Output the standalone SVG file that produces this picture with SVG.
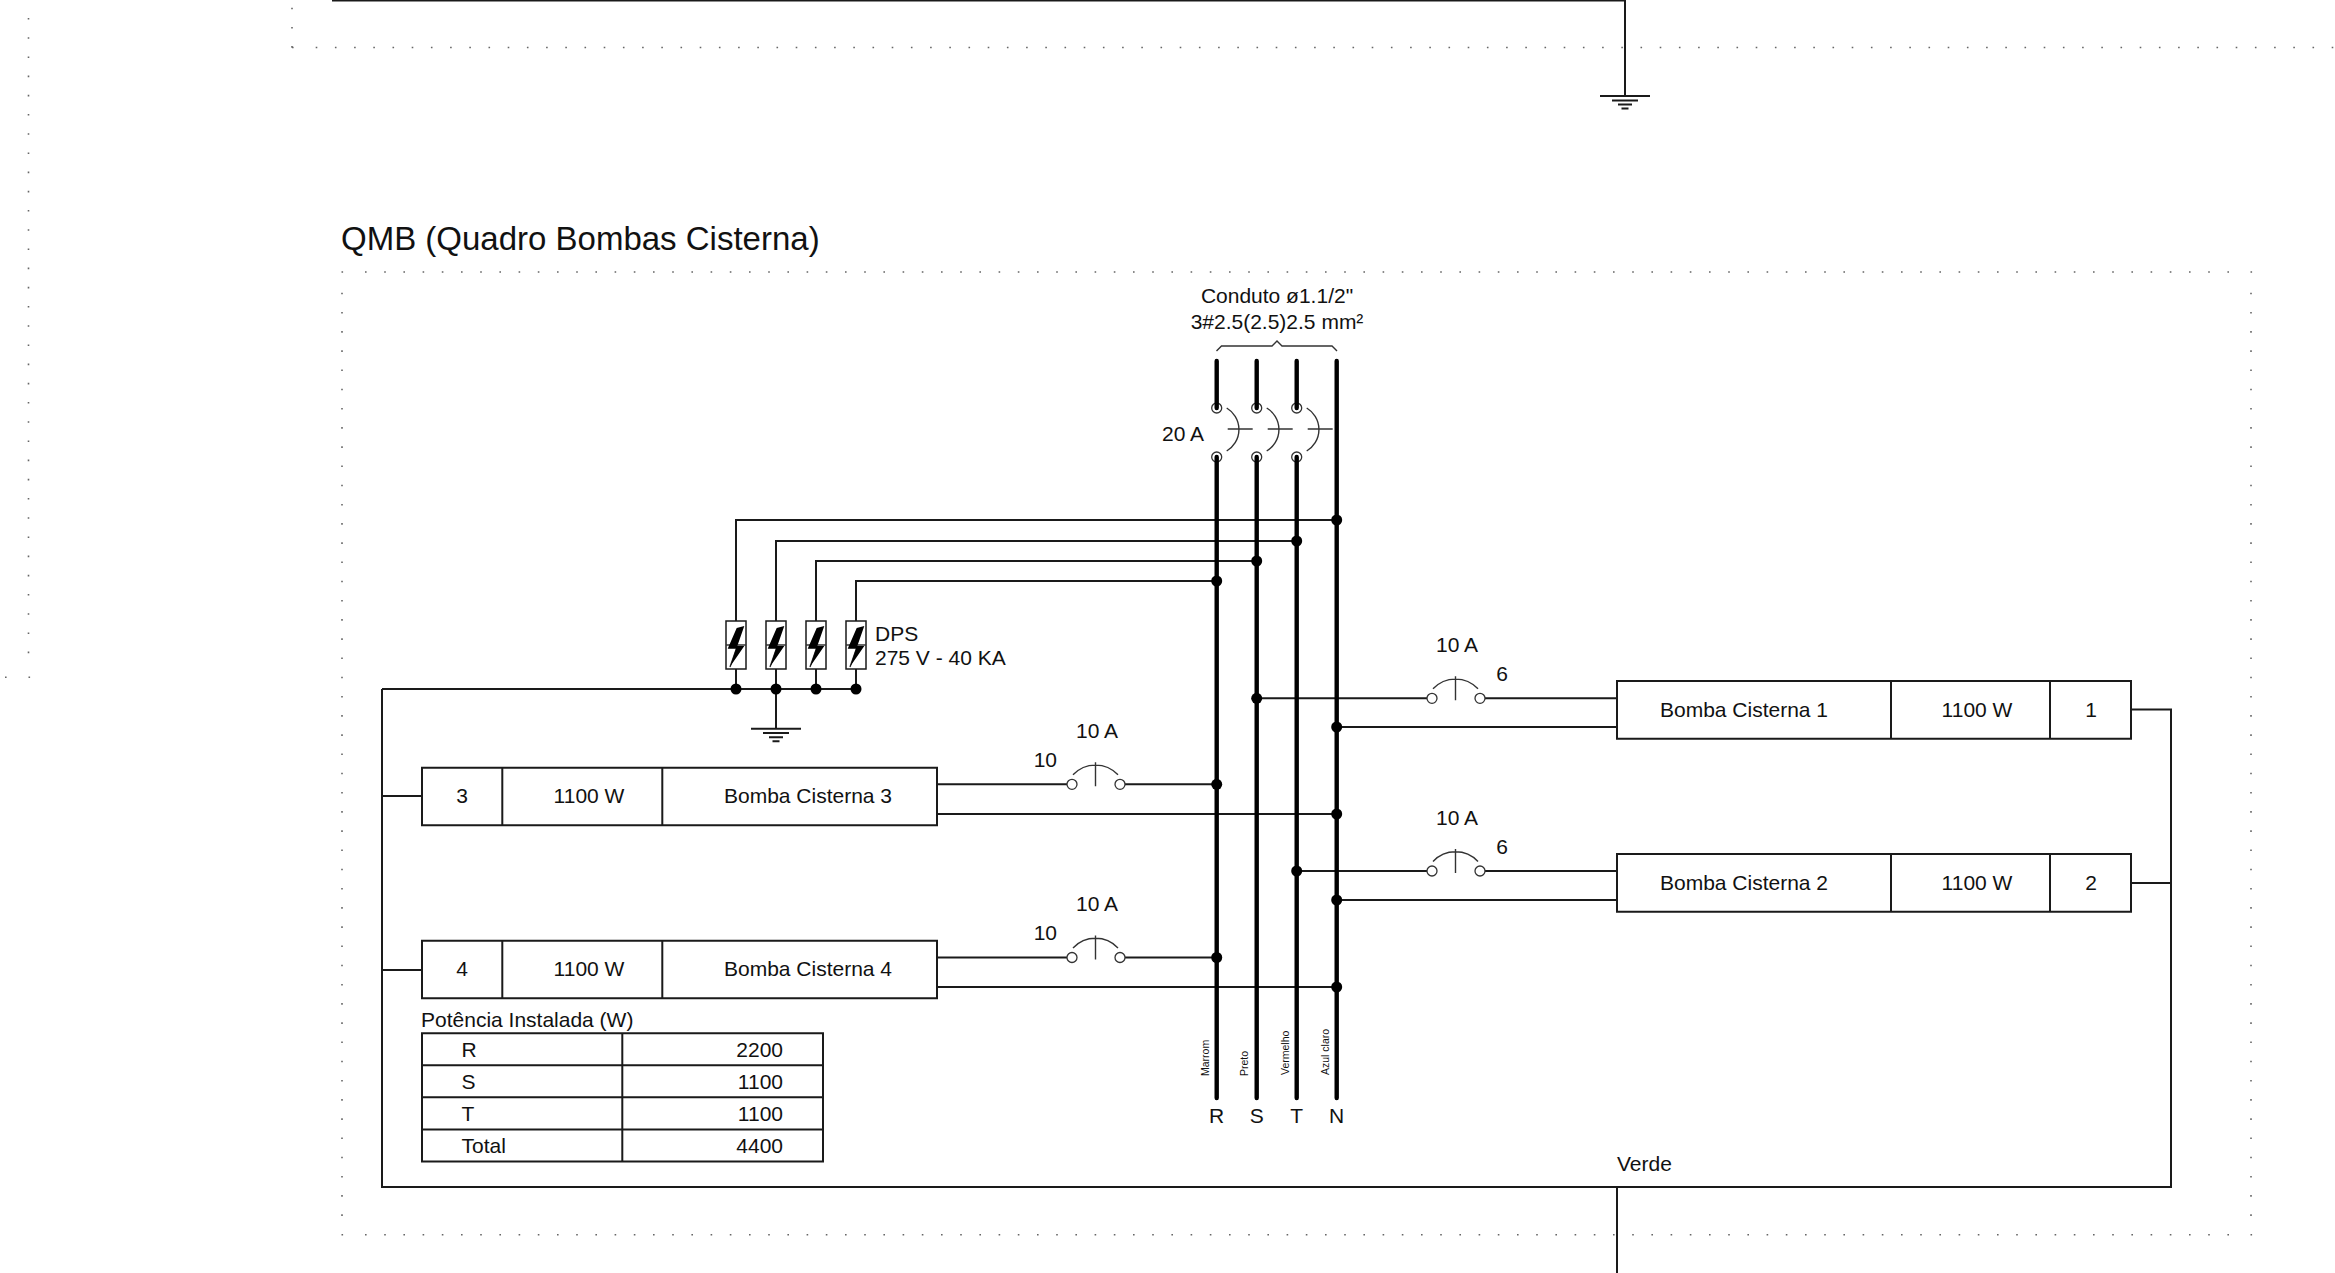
<svg xmlns="http://www.w3.org/2000/svg" width="2335" height="1273" viewBox="0 0 2335 1273">
<style>
text{font-family:"Liberation Sans",Arial,sans-serif;font-size:21px;fill:#111}
.m{text-anchor:middle}.e{text-anchor:end}
.w{fill:none;stroke:#1a1a1a;stroke-width:2}
.t{fill:none;stroke:#333;stroke-width:1.4}
.b{fill:none;stroke:#000;stroke-width:4.4;stroke-linecap:round}
.box{fill:#fff;stroke:#1a1a1a;stroke-width:2}
.d{fill:#000}
.o{fill:#fff;stroke:#333;stroke-width:1.3}
.dot{fill:none;stroke:#666;stroke-width:1.6;stroke-dasharray:1.6 17.6}
.c{font-size:10.5px}
</style>
<defs>
<g id="gnd"><path class="w" d="M-25 0H25"/><path class="w" d="M-13 4.4H13M-7 8.6H7M-3.5 12.6H3.5"/></g>
<g id="cb3"><path class="t" d="M10 -25A25 25 0 0 1 10 18M11 -4H36"/></g>
<g id="spd"><rect class="box" style="stroke-width:1.5" x="-10" y="0" width="20" height="48"/><path class="t" d="M-10 24H10M-6 46L1 26"/><path class="d" d="M8.3 5L0.7 7L-8.3 27.7H0L-6 45.7L8.3 25H1.3Z"/></g>
<g id="cb1"><path class="t" d="M1 -9.5A31 31 0 0 1 46 -9.5M23.5 -22V2"/><circle class="o" cx="0" cy="0" r="5"/><circle class="o" cx="48" cy="0" r="5"/></g>
</defs>
<g id="grid">
<path class="dot" d="M315.7 47.5H2335M292 7.7V50M28.5 18V655M28.5 677.3h1.6M5 677.3h1.6"/>
<path class="dot" d="M292 47.5h1.6M365 272H2229M365 1234.7H2229M342 292.7V1216M2251 292.7V1216M341.5 272h1.6M2250.5 272h1.6M341.5 1234.7h1.6M2250.5 1234.7h1.6"/>
</g>
<text id="title" x="341" y="250" style="font-size:33px">QMB (Quadro Bombas Cisterna)</text>
<g id="connectors">
<path class="w" d="M332 0.5H1625V96"/>
<path class="w" d="M382 689H856M382 689V1187H2171V709.5H2131M382 796H422M382 970H422M2171 883H2131M1617 1187V1273"/>
<path class="w" d="M736 621V520H1336.7M776 621V541H1296.7M816 621V561H1256.7M856 621V581H1216.7M736 669V689M776 669V728.7M816 669V689M856 669V689"/>
<path class="w" d="M937 784.3H1067M1125 784.3H1216.7M937 814H1336.7M937 957.5H1067M1125 957.5H1216.7M937 987H1336.7"/>
<path class="w" d="M1256.7 698.3H1427M1485 698.3H1617M1336.7 727H1617M1296.7 871H1427M1485 871H1617M1336.7 900H1617"/>
<path class="t" d="M1216.5 351L1221.5 346H1272L1277 341L1282 346H1332L1337 351"/>
</g>
<g id="breaker-main">
<use href="#cb3" x="1216.7" y="433"/><use href="#cb3" x="1256.7" y="433"/><use href="#cb3" x="1296.7" y="433"/>
<circle class="o" cx="1216.7" cy="408" r="5"/><circle class="o" cx="1256.7" cy="408" r="5"/><circle class="o" cx="1296.7" cy="408" r="5"/>
<circle class="o" cx="1216.7" cy="457" r="5"/><circle class="o" cx="1256.7" cy="457" r="5"/><circle class="o" cx="1296.7" cy="457" r="5"/>
<text class="e" x="1204" y="441">20 A</text>
</g>
<g id="buses">
<path class="b" d="M1216.7 361V408M1256.7 361V408M1296.7 361V408M1216.7 457V1098M1256.7 457V1098M1296.7 457V1098M1336.7 361V1098"/>
<text class="m" x="1216.7" y="1122.7">R</text><text class="m" x="1256.7" y="1122.7">S</text><text class="m" x="1296.7" y="1122.7">T</text><text class="m" x="1336.7" y="1122.7">N</text>
<text class="c" transform="translate(1209 1076) rotate(-90)">Marrom</text>
<text class="c" transform="translate(1248 1076) rotate(-90)">Preto</text>
<text class="c" transform="translate(1289 1075) rotate(-90)">Vermelho</text>
<text class="c" transform="translate(1329 1075) rotate(-90)">Azul claro</text>
</g>
<g id="junctions">
<circle class="d" cx="1336.7" cy="520" r="5.5"/><circle class="d" cx="1296.7" cy="541" r="5.5"/><circle class="d" cx="1256.7" cy="561" r="5.5"/><circle class="d" cx="1216.7" cy="581" r="5.5"/>
<circle class="d" cx="736" cy="689" r="5.5"/><circle class="d" cx="776" cy="689" r="5.5"/><circle class="d" cx="816" cy="689" r="5.5"/><circle class="d" cx="856" cy="689" r="5.5"/>
<circle class="d" cx="1216.7" cy="784.3" r="5.5"/><circle class="d" cx="1336.7" cy="814" r="5.5"/><circle class="d" cx="1216.7" cy="957.5" r="5.5"/><circle class="d" cx="1336.7" cy="987" r="5.5"/>
<circle class="d" cx="1256.7" cy="698.3" r="5.5"/><circle class="d" cx="1336.7" cy="727" r="5.5"/><circle class="d" cx="1296.7" cy="871" r="5.5"/><circle class="d" cx="1336.7" cy="900" r="5.5"/>
</g>
<g id="conduit-label">
<text class="m" x="1277" y="303">Conduto ø1.1/2"</text>
<text class="m" x="1277" y="329">3#2.5(2.5)2.5 mm²</text>
</g>
<g id="dps">
<use href="#spd" x="736" y="621"/><use href="#spd" x="776" y="621"/><use href="#spd" x="816" y="621"/><use href="#spd" x="856" y="621"/>
<text x="875" y="640.7">DPS</text><text x="875" y="665">275 V - 40 KA</text>
</g>
<use id="ground-dps" href="#gnd" x="776" y="728.7"/>
<use id="ground-top" href="#gnd" x="1625" y="96"/>
<g id="bomba-3">
<path class="box" d="M422 767.7H937V825.3H422ZM502.3 767.7V825.3M662.3 767.7V825.3"/>
<text class="m" x="462" y="803">3</text><text class="m" x="589" y="803">1100 W</text><text class="m" x="808" y="803">Bomba Cisterna 3</text>
<use href="#cb1" x="1072" y="784.3"/><text class="m" x="1097" y="738">10 A</text><text class="e" x="1057" y="766.7">10</text>
</g>
<g id="bomba-4">
<path class="box" d="M422 940.7H937V998.3H422ZM502.3 940.7V998.3M662.3 940.7V998.3"/>
<text class="m" x="462" y="976">4</text><text class="m" x="589" y="976">1100 W</text><text class="m" x="808" y="976">Bomba Cisterna 4</text>
<use href="#cb1" x="1072" y="957.5"/><text class="m" x="1097" y="911">10 A</text><text class="e" x="1057" y="939.7">10</text>
</g>
<g id="bomba-1">
<path class="box" d="M1617 681H2131V738.7H1617ZM1891 681V738.7M2050 681V738.7"/>
<text class="m" x="1744" y="717">Bomba Cisterna 1</text><text class="m" x="1977" y="717">1100 W</text><text class="m" x="2091" y="717">1</text>
<use href="#cb1" x="1432" y="698.3"/><text class="m" x="1457" y="652">10 A</text><text class="m" x="1502" y="680.6">6</text>
</g>
<g id="bomba-2">
<path class="box" d="M1617 854H2131V911.7H1617ZM1891 854V911.7M2050 854V911.7"/>
<text class="m" x="1744" y="890">Bomba Cisterna 2</text><text class="m" x="1977" y="890">1100 W</text><text class="m" x="2091" y="890">2</text>
<use href="#cb1" x="1432" y="871"/><text class="m" x="1457" y="825">10 A</text><text class="m" x="1502" y="853.6">6</text>
</g>
<text id="verde" x="1617" y="1171">Verde</text>
<g id="power-table">
<text x="421" y="1027">Potência Instalada (W)</text>
<path class="box" style="fill:none" d="M422 1033.3H823V1161.5H422ZM422 1065.3H823M422 1097.3H823M422 1129.4H823M622.3 1033.3V1161.5"/>
<text x="461.5" y="1057">R</text><text class="e" x="783" y="1057">2200</text>
<text x="461.5" y="1089">S</text><text class="e" x="783" y="1089">1100</text>
<text x="461.5" y="1121">T</text><text class="e" x="783" y="1121">1100</text>
<text x="461.5" y="1153">Total</text><text class="e" x="783" y="1153">4400</text>
</g>
</svg>
